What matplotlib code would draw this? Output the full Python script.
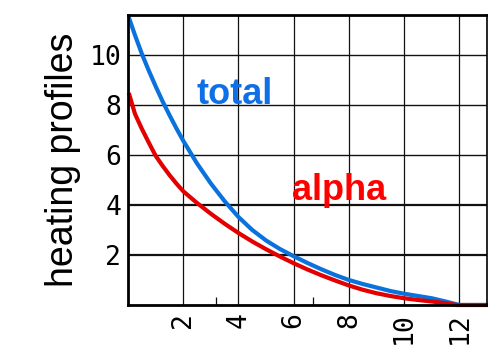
import matplotlib
matplotlib.use("Agg")
import matplotlib.pyplot as plt

# heating profiles vs radius
x_total = [0.0, 0.25, 0.5, 0.75, 1.0, 1.25, 1.5, 1.75, 2.0, 2.5, 3.0, 3.5, 4.0,
           4.5, 5.0, 5.5, 6.0, 6.5, 7.0, 7.5, 8.0, 8.5, 9.0, 9.5, 10.0,
           10.5, 11.0, 11.5, 12.0, 13.0]
y_total = [11.6, 10.8, 10.05, 9.38, 8.75, 8.15, 7.6, 7.07, 6.57, 5.66, 4.86,
           4.15, 3.52, 3.0, 2.58, 2.24, 1.95, 1.68, 1.43, 1.2, 1.0, 0.84, 0.7,
           0.56, 0.45, 0.36, 0.27, 0.14, 0.0, 0.0]

x_alpha = [0.05, 0.25, 0.5, 0.75, 1.0, 1.25, 1.5, 1.75, 2.0, 2.5, 3.0, 3.5,
           4.0, 4.5, 5.0, 5.5, 6.0, 6.5, 7.0, 7.5, 8.0, 8.5, 9.0, 9.5, 10.0,
           10.5, 11.0, 11.5, 11.9, 13.0]
y_alpha = [8.4, 7.65, 7.05, 6.5, 5.97, 5.57, 5.2, 4.86, 4.55, 4.08, 3.65, 3.25,
           2.88, 2.54, 2.23, 1.94, 1.67, 1.42, 1.19, 0.98, 0.78, 0.61, 0.47,
           0.36, 0.27, 0.2, 0.14, 0.07, 0.0, 0.0]

xticks = [2, 4, 6, 8, 10, 12]
yticks = [2, 4, 6, 8, 10]

fig = plt.figure(figsize=(4.89, 3.46), dpi=100)
ax = fig.add_axes([0.2618, 0.1185, 0.7341, 0.8381])

# grid drawn by hand so the lower horizontal lines can be heavier
for xv in xticks:
    ax.axvline(xv, color="#111111", lw=0.9, zorder=1)
for yv in yticks:
    ax.axhline(yv, color="#111111", lw=1.6 if yv <= 4 else 1.0, zorder=1)

ax.plot(x_alpha, y_alpha, color="#e30000", lw=3.0, zorder=3, clip_on=False,
        solid_joinstyle="round")
ax.plot(x_total, y_total, color="#0a72dc", lw=3.0, zorder=2,
        solid_joinstyle="round")

ax.text(2.47, 8.05, "total", color="#0f6fe6", fontsize=26, fontweight="bold",
        family="Liberation Sans", va="baseline", ha="left", zorder=4)
ax.text(5.95, 4.2, "alpha", color="#ff0000", fontsize=26, fontweight="bold",
        family="Liberation Sans", va="baseline", ha="left", zorder=4)

ax.set_xlim(0, 13)
ax.set_ylim(0, 11.6)
ax.set_xticks(xticks)
ax.set_yticks(yticks)
ax.set_xticks([3.2, 6.7], minor=True)
ax.tick_params(axis="both", which="major", length=0, pad=5)
ax.tick_params(axis="x", which="minor", direction="in", length=6, width=0.9,
               color="#111111")
ax.tick_params(axis="y", which="major", pad=5)
for lab in ax.get_xticklabels():
    lab.set_rotation(90)
for lab in ax.get_xticklabels() + ax.get_yticklabels():
    lab.set_fontfamily("DejaVu Sans Mono")
    lab.set_fontsize(19)

ax.set_ylabel("heating profiles", fontsize=27, family="Liberation Sans",
              labelpad=6)

for side in ["left", "bottom", "top"]:
    ax.spines[side].set_linewidth(2.0)
ax.spines["right"].set_linewidth(1.2)
for sp in ax.spines.values():
    sp.set_zorder(5)

fig.savefig("out.png", dpi=100, facecolor="white")
